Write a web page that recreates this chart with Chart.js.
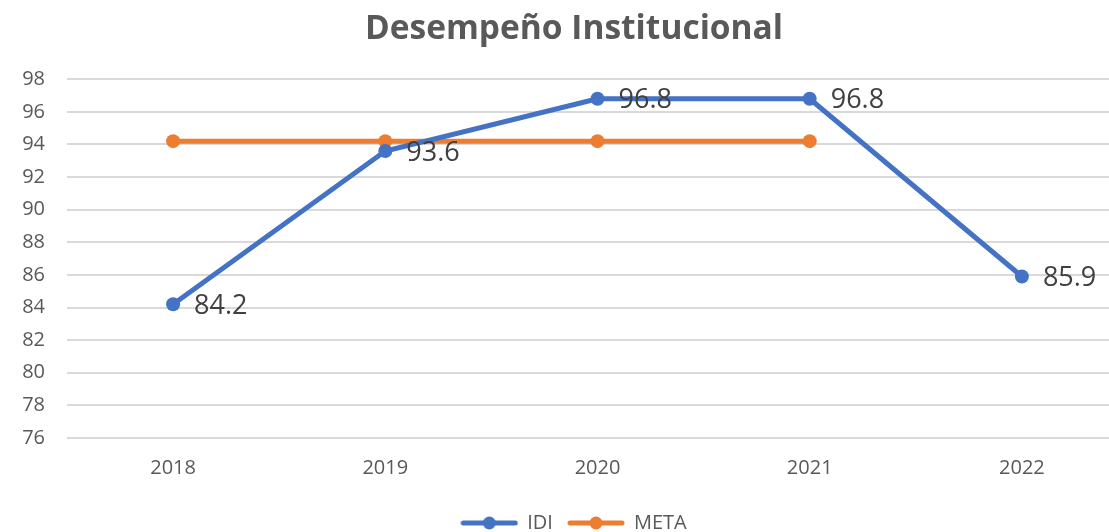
<!DOCTYPE html>
<html lang="es">
<head>
    <meta charset="UTF-8">
    <title>Desempeño Institucional</title>
    <script src="https://cdn.jsdelivr.net/npm/chart.js@4.4.1/dist/chart.umd.min.js"></script>
    <style>
        html, body { margin: 0; padding: 0; background: #fff; overflow: hidden; }
        #wrap { width: 1160px; height: 543px; }
    </style>
</head>
<body>
    <div id="wrap">
        <canvas id="chart" width="1160" height="543"></canvas>
    </div>

    <script>
        // data
        const years = ['2018', '2019', '2020', '2021', '2022'];
        const idi = [84.2, 93.6, 96.8, 96.8, 85.9];
        const meta = [94.2, 94.2, 94.2, 94.2, null];
        const yMin = 76;
        const yMax = 98;
        const yStep = 2;

        const blue = '#4472C4';
        const orange = '#ED7D31';
        const grey = '#595959';

        // little line + dot marker for the legend
        function legendMark(color) {
            const c = document.createElement('canvas');
            c.width = 58;
            c.height = 16;
            const g = c.getContext('2d');
            g.strokeStyle = color;
            g.lineWidth = 5;
            g.lineCap = 'round';
            g.beginPath();
            g.moveTo(3, 8);
            g.lineTo(55, 8);
            g.stroke();
            g.fillStyle = color;
            g.beginPath();
            g.arc(29, 8, 6.5, 0, Math.PI * 2);
            g.fill();
            return c;
        }

        // value labels to the right of the IDI points
        const valueLabels = {
            id: 'valueLabels',
            afterDatasetsDraw(chart) {
                const ctx = chart.ctx;
                const pts = chart.getDatasetMeta(0).data;
                ctx.save();
                ctx.font = '27px "Open Sans"';
                ctx.fillStyle = '#404040';
                ctx.textAlign = 'left';
                ctx.textBaseline = 'middle';
                pts.forEach((p, i) => {
                    ctx.fillText(idi[i].toFixed(1), p.x + 21, p.y + 2);
                });
                ctx.restore();
            }
        };

        const ctx = document.getElementById('chart').getContext('2d');
        new Chart(ctx, {
            type: 'line',
            data: {
                labels: years,
                datasets: [{
                    label: 'IDI',
                    data: idi,
                    borderColor: blue,
                    backgroundColor: blue,
                    borderWidth: 5,
                    pointStyle: 'circle',
                    pointRadius: 7,
                    pointHoverRadius: 7,
                    pointBorderWidth: 0
                }, {
                    label: 'META',
                    data: meta,
                    borderColor: orange,
                    backgroundColor: orange,
                    borderWidth: 5,
                    pointStyle: 'circle',
                    pointRadius: 7,
                    pointHoverRadius: 7,
                    pointBorderWidth: 0
                }]
            },
            options: {
                responsive: false,
                animation: false,
                layout: { padding: { left: 20, right: 32, top: 0, bottom: 0 } },
                plugins: {
                    title: {
                        display: true,
                        text: 'Desempeño Institucional',
                        color: grey,
                        font: { family: '"Open Sans"', size: 33.5, weight: 'bold' },
                        padding: { top: 9, bottom: 30 }
                    },
                    legend: {
                        position: 'bottom',
                        labels: {
                            color: grey,
                            font: { family: '"Open Sans"', size: 20 },
                            usePointStyle: true,
                            pointStyleWidth: 56,
                            padding: 15,
                            generateLabels(chart) {
                                return chart.data.datasets.map((ds, i) => ({
                                    text: ds.label,
                                    fontColor: grey,
                                    pointStyle: legendMark(ds.borderColor),
                                    datasetIndex: i,
                                    lineWidth: 0,
                                    hidden: false
                                }));
                            }
                        }
                    },
                    tooltip: { enabled: false }
                },
                scales: {
                    x: {
                        offset: true,
                        grid: { display: false, drawTicks: false },
                        border: { display: false },
                        ticks: {
                            color: grey,
                            font: { family: '"Open Sans"', size: 20 },
                            padding: 18
                        }
                    },
                    y: {
                        min: yMin,
                        max: yMax,
                        grid: { color: '#D9D9D9', lineWidth: 2, drawTicks: false },
                        border: { display: false },
                        ticks: {
                            stepSize: yStep,
                            color: grey,
                            font: { family: '"Open Sans"', size: 20 },
                            padding: 22
                        },
                        afterFit(scale) {
                            scale.width = 47;
                        }
                    }
                }
            },
            plugins: [valueLabels]
        });
    </script>
</body>
</html>
